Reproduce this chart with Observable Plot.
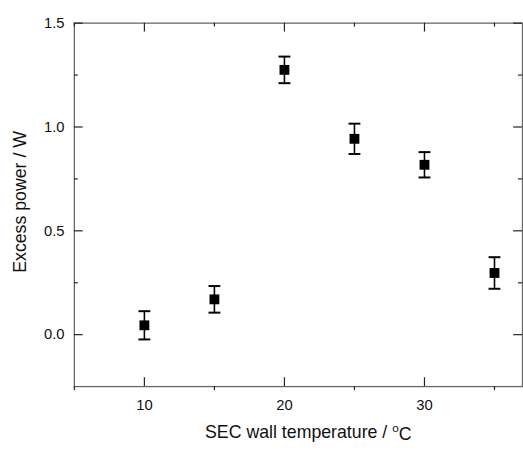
<!DOCTYPE html>
<html>
<head>
<meta charset="utf-8">
<script src="https://cdn.jsdelivr.net/npm/d3@7"></script>
<script src="https://cdn.jsdelivr.net/npm/@observablehq/plot@0.6"></script>
<style>
  html, body { margin: 0; padding: 0; background: #fff; }
  #chart { width: 523px; height: 450px; overflow: hidden; }
  #chart svg { display: block; }
</style>
</head>
<body>
<div id="chart"></div>
<script>
const temps = [10, 15, 20, 25, 30, 35];
const power = [0.045, 0.17, 1.275, 0.943, 0.818, 0.297];
const errs  = [0.068, 0.064, 0.064, 0.073, 0.061, 0.076];

const xMajor = [10, 20, 30];
const xMinor = [5, 15, 25, 35];
const yMajor = [0.0, 0.5, 1.0, 1.5];
const yMinor = [0.25, 0.75, 1.25];

const xLabel = "SEC wall temperature / °C";
const yLabel = "Excess power / W";

const data = temps.map((t, i) => ({t, p: power[i], lo: power[i] - errs[i], hi: power[i] + errs[i]}));

const W = 531, H = 450;
const mL = 75, mR = 1, mT = 23, mB = 58;
const pw = W - mL - mR, ph = H - mT - mB;

const cap = {draw(ctx) { ctx.moveTo(-6, 0); ctx.lineTo(6, 0); }};
const font = "Liberation Sans, Arial, sans-serif";
const tickColor = "#222";

const svg = Plot.plot({
  width: W, height: H,
  marginLeft: mL, marginRight: mR, marginTop: mT, marginBottom: mB,
  style: {fontFamily: font, background: "#fff"},
  x: {domain: [5, 37], axis: null},
  y: {domain: [-0.25, 1.5], axis: null},
  marks: [
    Plot.frame({stroke: "#666", strokeWidth: 1.3}),
    // bottom ticks
    Plot.tickX(xMajor, {x: d => d, insetTop: ph - 9, stroke: tickColor, strokeWidth: 1.2}),
    Plot.tickX(xMinor, {x: d => d, insetTop: ph, insetBottom: -4, stroke: tickColor, strokeWidth: 1.2}),
    // top ticks
    Plot.tickX(xMajor, {x: d => d, insetBottom: ph - 9, stroke: tickColor, strokeWidth: 1.2}),
    Plot.tickX(xMinor, {x: d => d, insetBottom: ph - 4, stroke: tickColor, strokeWidth: 1.2}),
    // left ticks
    Plot.tickY(yMajor, {y: d => d, insetRight: pw - 9, stroke: tickColor, strokeWidth: 1.2}),
    Plot.tickY(yMinor, {y: d => d, insetRight: pw - 4, stroke: tickColor, strokeWidth: 1.2}),
    // right ticks
    Plot.tickY(yMajor, {y: d => d, insetLeft: pw - 9, stroke: tickColor, strokeWidth: 1.2}),
    Plot.tickY(yMinor, {y: d => d, insetLeft: pw - 4, stroke: tickColor, strokeWidth: 1.2}),
    // tick labels
    Plot.text(xMajor, {x: d => d, frameAnchor: "bottom", lineAnchor: "top", dy: 13, text: d => String(d), fontSize: 15, fill: "#111"}),
    Plot.text(yMajor, {y: d => d, frameAnchor: "left", textAnchor: "end", dx: -10, text: d => d.toFixed(1), fontSize: 15, fill: "#111"}),
    // axis titles
    Plot.text([xLabel], {frameAnchor: "bottom", lineAnchor: "bottom", dx: 10, dy: 52, text: d => d, fontSize: 18, fill: "#111"}),
    Plot.text([yLabel], {frameAnchor: "left", textAnchor: "middle", rotate: -90, dx: -54.5, dy: -3, text: d => d, fontSize: 18, fill: "#111"}),
    // error bars
    Plot.ruleX(data, {x: "t", y1: "lo", y2: "hi", stroke: "#000", strokeWidth: 1.6}),
    Plot.dot(data, {x: "t", y: "hi", symbol: cap, stroke: "#000", strokeWidth: 2, fill: "none"}),
    Plot.dot(data, {x: "t", y: "lo", symbol: cap, stroke: "#000", strokeWidth: 2, fill: "none"}),
    // points
    Plot.dot(data, {x: "t", y: "p", symbol: "square", r: 5.64, fill: "#000", stroke: "none"})
  ]
});

// superscript "o" for degree sign
d3.select(svg).selectAll("text").each(function() {
  const el = d3.select(this);
  if (el.text() === xLabel) {
    el.text(null);
    el.append("tspan").text("SEC wall temperature / ");
    el.append("tspan").attr("font-size", 12).attr("dy", "-0.45em").text("o");
    el.append("tspan").attr("dy", "0.45em").text("C");
  }
});

document.getElementById("chart").appendChild(svg);
</script>
</body>
</html>
